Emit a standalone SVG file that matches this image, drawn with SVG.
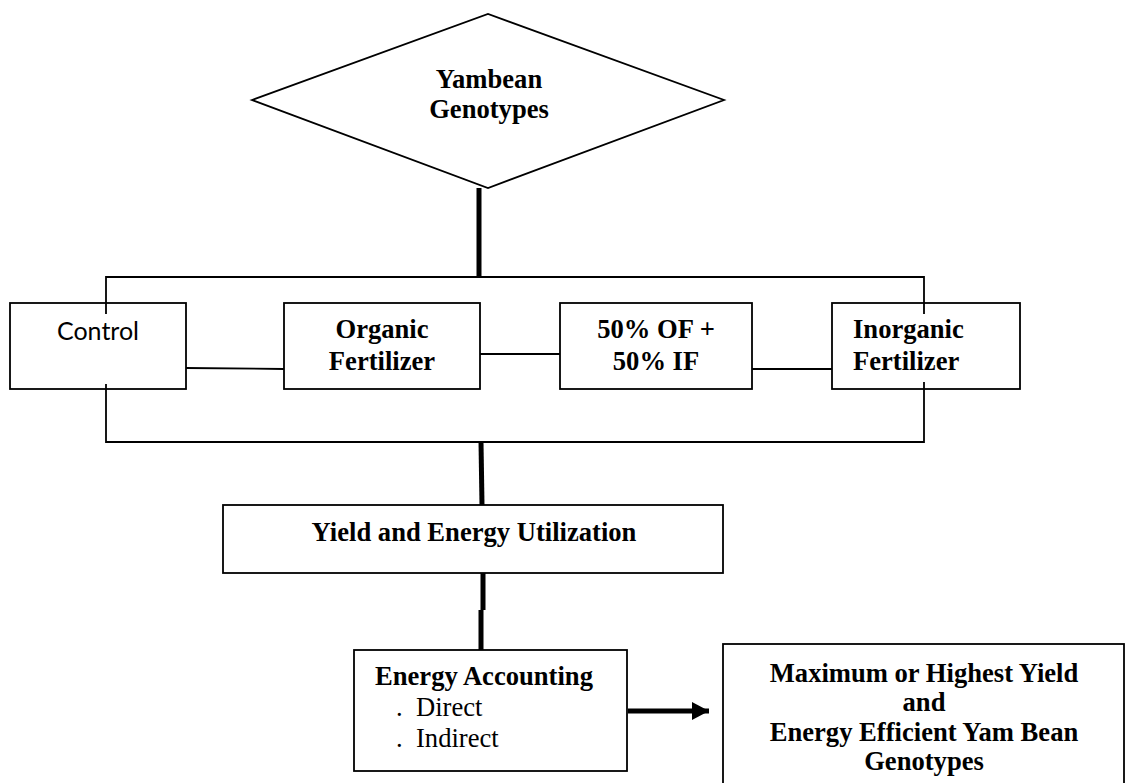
<svg xmlns="http://www.w3.org/2000/svg" width="1126" height="783" viewBox="0 0 1126 783">
<style>
.box{fill:#fff;stroke:#000;stroke-width:1.8}
.thin{fill:none;stroke:#000;stroke-width:1.8}
.thick{fill:none;stroke:#000;stroke-width:5}
.b{font-family:"Liberation Serif","Times New Roman",serif;font-weight:bold;font-size:26.6px;fill:#000}
.r{font-family:"Liberation Serif","Times New Roman",serif;font-size:26.6px;fill:#000}
.s{font-family:Lato,"Liberation Sans",sans-serif;font-size:25px;fill:#000}
</style>
<defs>
<marker id="ah" markerWidth="17" markerHeight="18" refX="17" refY="9" orient="auto" markerUnits="userSpaceOnUse">
<path d="M0,0 L17,9 L0,18 Z" fill="#000"/>
</marker>
</defs>
<rect width="1126" height="783" fill="#fff"/>
<g id="node-yambean">
<polygon class="box" points="252,100 488,14 724,100 488,188"/>
<text class="b" x="489" y="88" text-anchor="middle">Yambean</text>
<text class="b" x="489" y="118" text-anchor="middle">Genotypes</text>
</g>
<g id="node-control">
<rect class="box" x="10" y="303" width="176" height="86"/>
<text class="s" x="98" y="340" text-anchor="middle">Control</text>
</g>
<g id="node-organic">
<rect class="box" x="284" y="303" width="196" height="86"/>
<text class="b" x="382" y="338" text-anchor="middle">Organic</text>
<text class="b" x="382" y="370" text-anchor="middle">Fertilizer</text>
</g>
<g id="node-mix">
<rect class="box" x="560" y="303" width="192" height="86"/>
<text class="b" x="656" y="338" text-anchor="middle">50% OF +</text>
<text class="b" x="656" y="370" text-anchor="middle">50% IF</text>
</g>
<g id="node-inorganic">
<rect class="box" x="832" y="303" width="188" height="86"/>
<text class="b" x="853" y="338">Inorganic</text>
<text class="b" x="853" y="370">Fertilizer</text>
</g>
<g id="node-yield">
<rect class="box" x="223" y="505" width="500" height="68"/>
<text class="b" x="474" y="541" text-anchor="middle">Yield and Energy Utilization</text>
</g>
<g id="node-accounting">
<rect class="box" x="354" y="650" width="273" height="121"/>
<text class="b" x="375" y="685">Energy Accounting</text>
<text class="r" y="716"><tspan x="396">.</tspan><tspan x="416">Direct</tspan></text>
<text class="r" y="747"><tspan x="396">.</tspan><tspan x="416">Indirect</tspan></text>
</g>
<g id="node-result">
<rect class="box" x="723" y="644" width="401" height="150"/>
<text class="b" x="924" y="682" text-anchor="middle">Maximum or Highest Yield</text>
<text class="b" x="924" y="711" text-anchor="middle">and</text>
<text class="b" x="924" y="741" text-anchor="middle">Energy Efficient Yam Bean</text>
<text class="b" x="924" y="770" text-anchor="middle">Genotypes</text>
</g>
<g id="connectors">
<path class="thin" d="M106,314 V277 H924 V314"/>
<path class="thin" d="M106,384 V442 H924 V382"/>
<path class="thick" d="M479,188 V277"/>
<path class="thin" d="M186,368 L284,369"/>
<path class="thin" d="M480,354 H560"/>
<path class="thin" d="M752,369 H832"/>
<path class="thick" d="M481,442 L482,505"/>
<path class="thick" d="M483,573 V610 M481,610 V650"/>
<path class="thick" d="M628,711 H709" marker-end="url(#ah)"/>
</g>
</svg>
